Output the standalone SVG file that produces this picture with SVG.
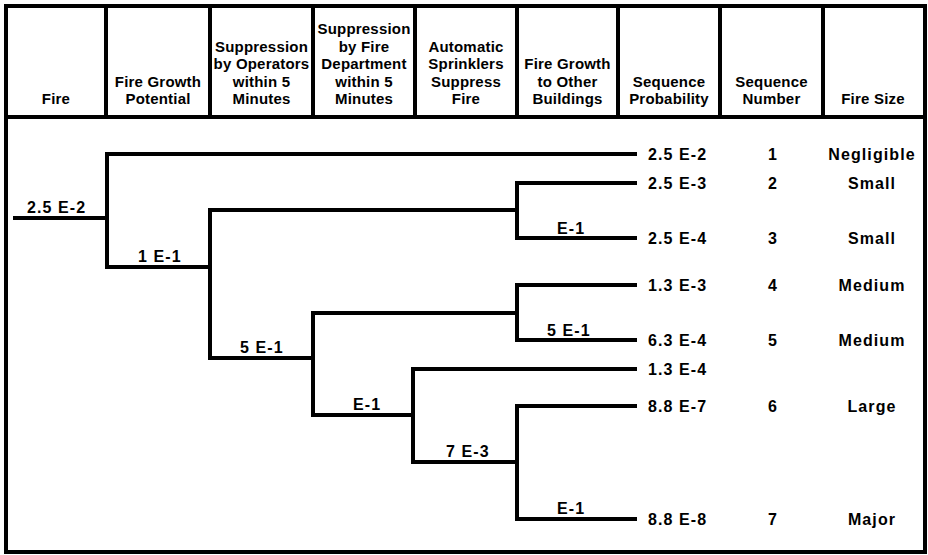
<svg xmlns="http://www.w3.org/2000/svg" width="928" height="555" viewBox="0 0 928 555">
<style>
.bd{fill:none;stroke:#000;stroke-width:4}
.ln{fill:none;stroke:#000;stroke-width:4;stroke-linejoin:miter;stroke-linecap:butt}
.h{font-family:"Liberation Sans",Arial,sans-serif;font-weight:bold;font-size:15px;text-anchor:middle;fill:#000;letter-spacing:0.2px}
.t{font-family:"Liberation Sans",Arial,sans-serif;font-weight:bold;font-size:16px;fill:#000;letter-spacing:1.1px}
.c{text-anchor:middle}
</style>
<rect width="928" height="555" fill="#fff"/>
<g id="frame">
<rect class="bd" x="6" y="6" width="919" height="546"/>
<line class="bd" x1="6" y1="117" x2="925" y2="117"/>
<path class="bd" d="M106,6V117M210,6V117M313,6V117M415,6V117M517,6V117M618,6V117M720,6V117M823,6V117"/>
</g>
<g id="header">
<g id="h-fire"><text class="h" x="56" y="104">Fire</text></g>
<g id="h-growth"><text class="h" x="158" y="86.5">Fire Growth</text><text class="h" x="158" y="104">Potential</text></g>
<g id="h-operators"><text class="h" x="261.5" y="51.5">Suppression</text><text class="h" x="261.5" y="69">by Operators</text><text class="h" x="261.5" y="86.5">within 5</text><text class="h" x="261.5" y="104">Minutes</text></g>
<g id="h-department"><text class="h" x="364" y="34">Suppression</text><text class="h" x="364" y="51.5">by Fire</text><text class="h" x="364" y="69">Department</text><text class="h" x="364" y="86.5">within 5</text><text class="h" x="364" y="104">Minutes</text></g>
<g id="h-sprinklers"><text class="h" x="466" y="51.5">Automatic</text><text class="h" x="466" y="69">Sprinklers</text><text class="h" x="466" y="86.5">Suppress</text><text class="h" x="466" y="104">Fire</text></g>
<g id="h-buildings"><text class="h" x="567.5" y="69">Fire Growth</text><text class="h" x="567.5" y="86.5">to Other</text><text class="h" x="567.5" y="104">Buildings</text></g>
<g id="h-probability"><text class="h" x="669" y="86.5">Sequence</text><text class="h" x="669" y="104">Probability</text></g>
<g id="h-number"><text class="h" x="771.5" y="86.5">Sequence</text><text class="h" x="771.5" y="104">Number</text></g>
<g id="h-size"><text class="h" x="873" y="104">Fire Size</text></g>
</g>
<g id="connectors">
<path class="ln" d="M13,218H107"/>
<path class="ln" d="M637,154H107V267H210"/>
<path class="ln" d="M517,210H210V358H313"/>
<path class="ln" d="M637,183H517V238H637"/>
<path class="ln" d="M517,313H313V415H413"/>
<path class="ln" d="M637,285H517V340H637"/>
<path class="ln" d="M637,369H413V462H517"/>
<path class="ln" d="M637,406H517V519H637"/>
</g>
<g id="branch-labels">
<text class="t" x="27" y="213">2.5 E-2</text>
<text class="t" x="138" y="262">1 E-1</text>
<text class="t" x="240" y="353">5 E-1</text>
<text class="t" x="353" y="410">E-1</text>
<text class="t" x="446" y="457">7 E-3</text>
<text class="t" x="557" y="234">E-1</text>
<text class="t" x="547" y="336">5 E-1</text>
<text class="t" x="557" y="514">E-1</text>
</g>
<g id="seq-1"><text class="t" x="648" y="160">2.5 E-2</text><text class="t c" x="773" y="160">1</text><text class="t c" x="872" y="160">Negligible</text></g>
<g id="seq-2"><text class="t" x="648" y="189">2.5 E-3</text><text class="t c" x="773" y="189">2</text><text class="t c" x="872" y="189">Small</text></g>
<g id="seq-3"><text class="t" x="648" y="244">2.5 E-4</text><text class="t c" x="773" y="244">3</text><text class="t c" x="872" y="244">Small</text></g>
<g id="seq-4"><text class="t" x="648" y="291">1.3 E-3</text><text class="t c" x="773" y="291">4</text><text class="t c" x="872" y="291">Medium</text></g>
<g id="seq-5"><text class="t" x="648" y="346">6.3 E-4</text><text class="t c" x="773" y="346">5</text><text class="t c" x="872" y="346">Medium</text></g>
<g id="seq-x"><text class="t" x="648" y="375">1.3 E-4</text></g>
<g id="seq-6"><text class="t" x="648" y="412">8.8 E-7</text><text class="t c" x="773" y="412">6</text><text class="t c" x="872" y="412">Large</text></g>
<g id="seq-7"><text class="t" x="648" y="525">8.8 E-8</text><text class="t c" x="773" y="525">7</text><text class="t c" x="872" y="525">Major</text></g>
</svg>
